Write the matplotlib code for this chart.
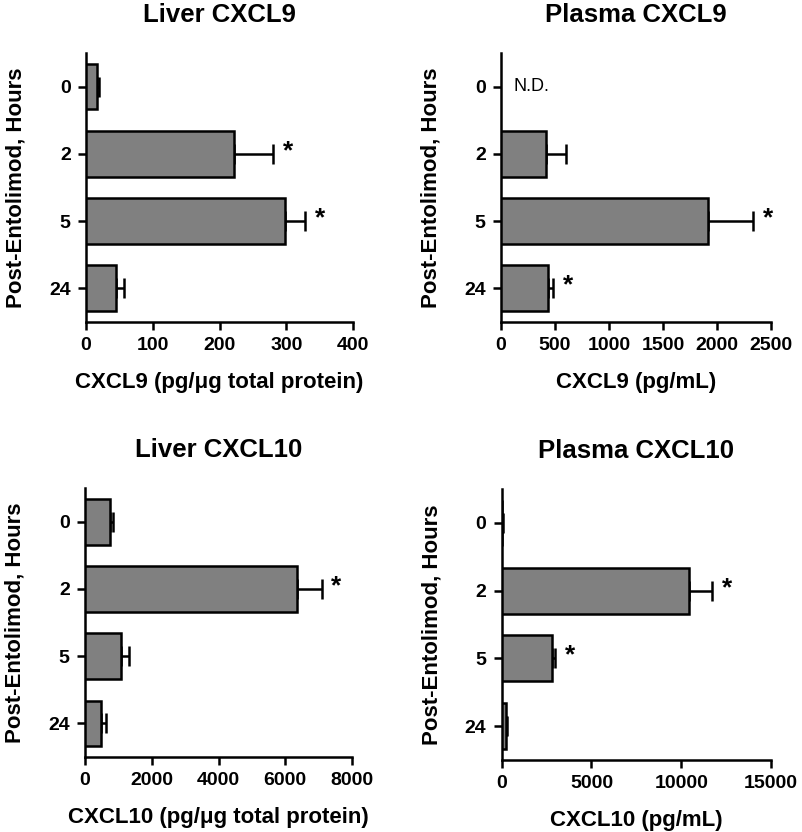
import numpy as np
import matplotlib
matplotlib.use('Agg')
import matplotlib.pyplot as plt

plt.rcParams['font.family'] = ['Liberation Sans', 'DejaVu Sans']
plt.rcParams['font.weight'] = 'bold'

hours = ['0', '2', '5', '24']

# mean values and upper SEM
liver9 = [16, 222, 298, 45]
liver9_err = [4, 58, 30, 12]
liver9_sig = [False, True, True, False]

plasma9 = [np.nan, 417, 1917, 435]   # 0 h: not detected
plasma9_err = [np.nan, 185, 416, 47]
plasma9_sig = [False, False, True, True]

liver10 = [750, 6340, 1070, 480]
liver10_err = [100, 750, 260, 150]
liver10_sig = [False, True, False, False]

plasma10 = [40, 10450, 2785, 240]
plasma10_err = [20, 1280, 185, 70]
plasma10_sig = [False, True, True, False]

panels = [
    ('Liver CXCL9', liver9, liver9_err, liver9_sig, 400, 100,
     'CXCL9 (pg/μg total protein)', [0.1072, 0.613, 0.333, 0.3233]),
    ('Plasma CXCL9', plasma9, plasma9_err, plasma9_sig, 2500, 500,
     'CXCL9 (pg/mL)', [0.6247, 0.613, 0.3367, 0.3233]),
    ('Liver CXCL10', liver10, liver10_err, liver10_sig, 8000, 2000,
     'CXCL10 (pg/μg total protein)', [0.106, 0.0901, 0.333, 0.3233]),
    ('Plasma CXCL10', plasma10, plasma10_err, plasma10_sig, 15000, 5000,
     'CXCL10 (pg/mL)', [0.6255, 0.0865, 0.336, 0.3257]),
]

fig = plt.figure(figsize=(8.02, 8.32), dpi=100)

for title, vals, errs, sig, xmax, step, xlabel, rect in panels:
    ax = fig.add_axes(rect)
    pos = np.arange(len(hours))
    ax.barh(pos, vals, height=0.68, color='#808080', edgecolor='black',
            linewidth=1.8, zorder=3)
    ax.errorbar(vals, pos, xerr=[np.zeros(len(errs)), errs], fmt='none',
                ecolor='black', elinewidth=1.8, capsize=7.5, capthick=1.8,
                zorder=2)
    for i in range(len(hours)):
        if sig[i]:
            ax.annotate('*', xy=(vals[i] + errs[i], pos[i]), xytext=(7, 2),
                        textcoords='offset points', ha='left', va='center',
                        fontsize=19, fontweight='bold')
        if np.isnan(vals[i]):
            ax.annotate('N.D.', xy=(0, pos[i]), xytext=(9, 0),
                        textcoords='offset points', ha='left', va='center',
                        fontsize=13, fontweight='normal')

    ax.set_ylim(3.5, -0.5)
    ax.set_xlim(0, xmax)
    ax.set_xticks(np.arange(0, xmax + 1, step))
    ax.set_yticks(pos)
    ax.set_yticklabels(hours)
    for s in ['top', 'right']:
        ax.spines[s].set_visible(False)
    for s in ['left', 'bottom']:
        ax.spines[s].set_linewidth(1.8)
    ax.tick_params(width=1.8, length=6, labelsize=14, direction='out', pad=5)
    ax.set_title(title, fontsize=18.5, fontweight='bold', pad=22)
    ax.set_xlabel(xlabel, fontsize=16, fontweight='bold', labelpad=13)
    ax.set_ylabel('Post-Entolimod, Hours', fontsize=16, fontweight='bold',
                  labelpad=16)

fig.savefig('out.png', dpi=100)
